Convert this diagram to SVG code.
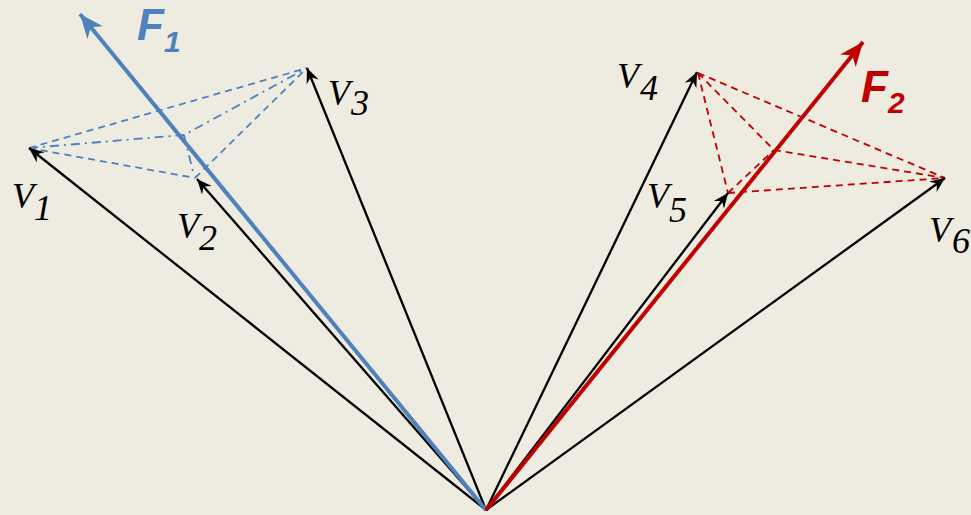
<svg xmlns="http://www.w3.org/2000/svg" width="971" height="515" viewBox="0 0 971 515">
<defs>
<style>
.vec{stroke:#000;stroke-width:2.3;fill:none;marker-end:url(#ab)}
.f1{stroke:#4F81BD;stroke-width:4;fill:none;marker-end:url(#afb)}
.f2{stroke:#C00000;stroke-width:4;fill:none;marker-end:url(#afr)}
.bd{stroke:#4F81BD;stroke-width:1.8;fill:none;stroke-dasharray:7 5}
.bdd{stroke:#4F81BD;stroke-width:1.8;fill:none;stroke-dasharray:9 5 2 5}
.rd{stroke:#C00000;stroke-width:1.8;fill:none;stroke-dasharray:7 5}
.vl{font-family:"Liberation Serif","DejaVu Serif",serif;font-style:italic;font-size:36px;fill:#000}
.fl{font-family:"Liberation Sans","DejaVu Sans",sans-serif;font-style:italic;font-weight:bold;font-size:44px}
</style>
<marker id="ab" markerUnits="userSpaceOnUse" viewBox="-16 -8 18 16" refX="0" refY="0" markerWidth="18" markerHeight="16" orient="auto">
<path d="M0,0 L-15,-6.5 L-10,0 L-15,6.5 Z" fill="#000"/>
</marker>
<marker id="afb" markerUnits="userSpaceOnUse" viewBox="-26 -11 28 22" refX="0" refY="0" markerWidth="28" markerHeight="22" orient="auto">
<path d="M0,0 L-24,-10 L-17,0 L-24,10 Z" fill="#4F81BD"/>
</marker>
<marker id="afr" markerUnits="userSpaceOnUse" viewBox="-26 -11 28 22" refX="0" refY="0" markerWidth="28" markerHeight="22" orient="auto">
<path d="M0,0 L-24,-10 L-17,0 L-24,10 Z" fill="#C00000"/>
</marker>
</defs>
<rect width="971" height="515" fill="#EEEBE1"/>
<g id="connectors">
<path class="bd" d="M29,148 L307,68"/>
<path class="bd" d="M29,148 L195,178"/>
<path class="bd" d="M195,178 L307,68"/>
<path class="bdd" d="M29,148 L184,135 L307,68"/>
<path class="bdd" d="M184,135 L194,176"/>
<path class="rd" d="M698,73 L945,178"/>
<path class="rd" d="M698,73 L728,193"/>
<path class="rd" d="M728,193 L945,178"/>
<path class="rd" d="M698,73 L774,150 L945,178"/>
<path class="rd" d="M728,193 L774,150"/>
<path class="vec" d="M486,510 L29,148"/>
<path class="vec" d="M486,510 L197,179"/>
<path class="vec" d="M486,510 L307,68"/>
<path class="vec" d="M486,510 L697,72"/>
<path class="vec" d="M486,510 L728,193"/>
<path class="vec" d="M486,510 L945,178"/>
<path class="f1" d="M486,510 L80,14"/>
<path class="f2" d="M486,510 L863,42"/>
</g>
<g id="V1"><text class="vl" x="12" y="208">V</text><text class="vl" x="34" y="220">1</text></g>
<g id="V2"><text class="vl" x="177" y="238">V</text><text class="vl" x="199" y="250">2</text></g>
<g id="V3"><text class="vl" x="328" y="105">V</text><text class="vl" x="351" y="115">3</text></g>
<g id="V4"><text class="vl" x="617" y="88">V</text><text class="vl" x="640" y="100">4</text></g>
<g id="V5"><text class="vl" x="647" y="208">V</text><text class="vl" x="669" y="222">5</text></g>
<g id="V6"><text class="vl" x="929" y="242">V</text><text class="vl" x="952" y="253">6</text></g>
<g id="F1"><text class="fl" x="137" y="40" fill="#4F81BD">F<tspan font-size="30" dy="12">1</tspan></text></g>
<g id="F2"><text class="fl" x="861" y="102" fill="#C00000">F<tspan font-size="30" dy="11">2</tspan></text></g>
</svg>
